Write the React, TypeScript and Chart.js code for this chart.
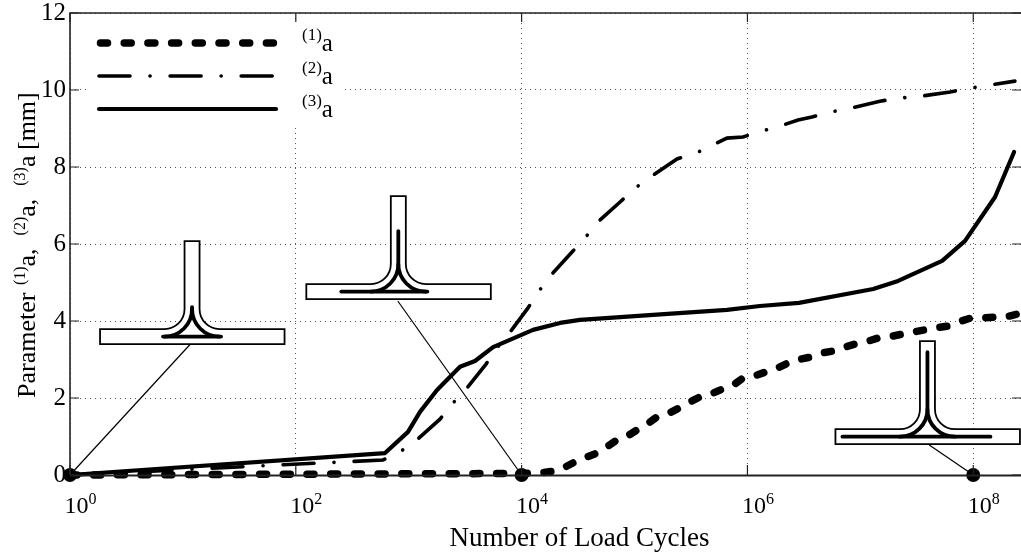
import React, { useEffect, useRef } from "react";
import { Chart, registerables } from "chart.js";

Chart.register(...registerables);

const cycles1 = [1, 100, 1e4, 14550, 18970, 23280, 29720, 35730, 46560, 54830, 69980, 84140, 105200, 126500, 158200, 194000, 247700, 297800, 380200, 457100, 595700, 731100, 914100, 1.10e6, 1.46e6, 1.76e6, 2.29e6, 2.75e6, 3.58e6, 4.58e6, 5.73e6, 6.89e6, 8.97e6, 1.10e7, 1.44e7, 1.76e7, 2.34e7, 4.59e7, 5.98e7, 7.33e7, 9.57e7, 1.20e8, 1.50e8, 1.91e8, 2.44e8];
const param1 = [0, 0.02, 0.04, 0.05, 0.10, 0.18, 0.34, 0.44, 0.57, 0.70, 0.91, 0.99, 1.17, 1.30, 1.51, 1.58, 1.74, 1.87, 2.03, 2.08, 2.23, 2.31, 2.52, 2.55, 2.68, 2.75, 2.91, 2.99, 3.06, 3.17, 3.22, 3.30, 3.40, 3.45, 3.56, 3.58, 3.66, 3.82, 3.87, 3.97, 4.08, 4.08, 4.10, 4.10, 4.18];

const cycles2 = [1, 592, 855, 1208, 1892, 2468, 3281, 4840, 6053, 7889, 11400, 14260, 18580, 27950, 36450, 48520, 74470, 1.01e5, 1.43e5, 2.38e5, 3.51e5, 5.16e5, 6.59e5, 9.14e5, 1.37e6, 2.07e6, 2.81e6, 3.73e6, 5.50e6, 8.27e6, 1.49e7, 2.25e7, 3.45e7, 6.23e7, 9.37e7, 1.41e8, 2.34e8];
const param2 = [0, 0.39, 0.62, 0.94, 1.45, 1.87, 2.26, 2.88, 3.30, 3.71, 4.34, 4.78, 5.22, 5.79, 6.16, 6.60, 7.09, 7.45, 7.77, 8.21, 8.36, 8.60, 8.75, 8.78, 8.94, 9.09, 9.22, 9.30, 9.43, 9.53, 9.71, 9.79, 9.84, 9.95, 10.05, 10.13, 10.23];

const cycles3 = [1, 617, 986, 1259, 1782, 2847, 3866, 5585, 12620, 21880, 32890, 145900, 659000, 1.29e6, 2.86e6, 1.30e7, 2.16e7, 5.30e7, 8.46e7, 1.56e8, 2.30e8];
const param3 = [0, 0.57, 1.12, 1.64, 2.21, 2.81, 2.96, 3.32, 3.77, 3.95, 4.03, 4.16, 4.29, 4.39, 4.47, 4.83, 5.04, 5.56, 6.08, 7.22, 8.39];

const markerCycles = [1, 1e4, 1e8];
const markerValues = [0, 0, 0];

const leaderFromCycles = [11.56, 800, 4.08e7];
const leaderFromValues = [3.39, 4.52, 0.78];

const xTickValues = [1, 1e2, 1e4, 1e6, 1e8];
const xTickExponents = ["0", "2", "4", "6", "8"];
const yTickStep = 2;
const seriesNames = ["(1)", "(2)", "(3)"];

const insetCycles = [12.05, 809, 3.93e7];
const insetValues = [3.79, 4.96, 1.19];
const crackTops = [22, 53, 77];
const crackLeft = [29, 57, 85];
const crackRight = [29, 29, 63];

const SERIF = '"Liberation Serif", "Times New Roman", serif';
const dash1 = [7, 16.7];
const dash2 = [31, 20, 0.1, 20];

type Run = { t: string; sup?: boolean; gap?: number };

function drawRuns(ctx: any, x: number, y: number, runs: Run[], size: number, supSize: number, rise: number) {
  let cur = x;
  ctx.textBaseline = "alphabetic";
  ctx.textAlign = "left";
  ctx.fillStyle = "#000";
  for (const r of runs) {
    cur += r.gap || 0;
    ctx.font = `${r.sup ? supSize : size}px ${SERIF}`;
    ctx.fillText(r.t, cur, r.sup ? y - rise : y);
    cur += ctx.measureText(r.t).width;
  }
}

const overlay = {
  id: "overlay",
  beforeDatasetsDraw(chart: any) {
    const { ctx, scales } = chart;
    const X = scales.x;
    const Y = scales.y;
    ctx.save();
    insetCycles.forEach((c, i) => {
      const cx = X.getPixelForValue(c);
      const ft = Y.getPixelForValue(insetValues[i]);
      const hw = 7.5;
      const R = 20;
      const left = cx - 92;
      const right = cx + 92.5;
      const fb = ft + 15;
      const wt = ft - 88;
      ctx.beginPath();
      ctx.moveTo(left, ft);
      ctx.lineTo(cx - hw - R, ft);
      ctx.arc(cx - hw - R, ft - R, R, Math.PI / 2, 0, true);
      ctx.lineTo(cx - hw, wt);
      ctx.lineTo(cx + hw, wt);
      ctx.lineTo(cx + hw, ft - R);
      ctx.arc(cx + hw + R, ft - R, R, Math.PI, Math.PI / 2, true);
      ctx.lineTo(right, ft);
      ctx.lineTo(right, fb);
      ctx.lineTo(left, fb);
      ctx.closePath();
      ctx.fillStyle = "#fff";
      ctx.fill();
      ctx.strokeStyle = "#000";
      ctx.lineWidth = 1.8;
      ctx.lineJoin = "miter";
      ctx.stroke();
      const my = ft + 7.5;
      const r = 27.5;
      ctx.lineWidth = 3.8;
      ctx.lineCap = "round";
      ctx.beginPath();
      ctx.moveTo(cx - crackLeft[i], my);
      ctx.lineTo(cx + crackRight[i], my);
      ctx.stroke();
      ctx.beginPath();
      ctx.arc(cx - r, my - r, r, Math.PI / 2, 0, true);
      ctx.lineTo(cx, ft - crackTops[i]);
      ctx.stroke();
      ctx.beginPath();
      ctx.arc(cx + r, my - r, r, Math.PI / 2, Math.PI, false);
      ctx.stroke();
    });
    ctx.restore();
  },
  afterDraw(chart: any) {
    const { ctx, scales, chartArea: a } = chart;
    const X = scales.x;
    const Y = scales.y;
    ctx.save();
    // frame and inward tick marks
    ctx.strokeStyle = "#222";
    ctx.lineWidth = 1.6;
    ctx.beginPath();
    ctx.moveTo(a.left, a.bottom);
    ctx.lineTo(a.left, a.top);
    ctx.lineTo(a.right, a.top);
    ctx.stroke();
    ctx.lineWidth = 2;
    ctx.beginPath();
    ctx.moveTo(a.left, a.bottom + 0.5);
    ctx.lineTo(a.right, a.bottom + 0.5);
    ctx.stroke();
    ctx.lineWidth = 1.2;
    ctx.beginPath();
    for (const t of xTickValues) {
      const p = X.getPixelForValue(t);
      ctx.moveTo(p, a.top);
      ctx.lineTo(p, a.top + 9);
      ctx.moveTo(p, a.bottom);
      ctx.lineTo(p, a.bottom - 10);
    }
    for (const t of Y.ticks) {
      const p = Y.getPixelForValue(t.value);
      ctx.moveTo(a.left, p);
      ctx.lineTo(a.left + 9, p);
      ctx.moveTo(a.right, p);
      ctx.lineTo(a.right - 9, p);
    }
    ctx.stroke();

    // legend
    ctx.fillStyle = "#fff";
    ctx.fillRect(87, 23, 255, 105);
    const ds = chart.data.datasets;
    seriesNames.forEach((name, i) => {
      const y = 43 + i * 33;
      ctx.strokeStyle = "#000";
      ctx.lineWidth = ds[i].borderWidth;
      ctx.lineCap = "round";
      ctx.setLineDash(ds[i].borderDash || []);
      ctx.beginPath();
      ctx.moveTo(i === 0 ? 100.5 : 99, y);
      ctx.lineTo(276, y);
      ctx.stroke();
      ctx.setLineDash([]);
      drawRuns(ctx, 302, y + 8, [{ t: name, sup: true }, { t: "a" }], 25, 17, 11);
    });

    // x tick labels with superscripts
    xTickValues.forEach((t, i) => {
      const p = X.getPixelForValue(t);
      drawRuns(ctx, p - 5.5, 513, [{ t: "10" }, { t: xTickExponents[i], sup: true }], 24, 16, 9.5);
    });

    // axis titles
    ctx.fillStyle = "#000";
    ctx.font = `27px ${SERIF}`;
    ctx.textAlign = "center";
    ctx.textBaseline = "alphabetic";
    ctx.fillText("Number of Load Cycles", 579.5, 546);

    ctx.translate(35, 398);
    ctx.rotate(-Math.PI / 2);
    drawRuns(
      ctx,
      0,
      0,
      [
        { t: "Parameter" },
        { t: seriesNames[0], sup: true, gap: 7.5 },
        { t: "a," },
        { t: seriesNames[1], sup: true, gap: 13 },
        { t: "a," },
        { t: seriesNames[2], sup: true, gap: 13 },
        { t: "a" },
        { t: "[mm]", gap: 5.5 },
      ],
      26,
      16,
      10
    );
    ctx.restore();
  },
};

const pts = (xs: number[], ys: number[]) => xs.map((x, i) => ({ x, y: ys[i] }));

const leaderDatasets = markerCycles.map((c, i) => ({
  label: `leader ${i + 1}`,
  data: [
    { x: leaderFromCycles[i], y: leaderFromValues[i] },
    { x: c, y: markerValues[i] },
  ],
  borderColor: "#000",
  borderWidth: 1.2,
  pointRadius: 0,
  clip: false,
  order: 5,
}));

const noPad = (s: any) => {
  s.paddingTop = 0;
  s.paddingBottom = 0;
  s.paddingLeft = 0;
  s.paddingRight = 0;
};

export default function App() {
  const ref = useRef<HTMLCanvasElement>(null);
  useEffect(() => {
    document.body.style.margin = "0";
    const chart = new Chart(ref.current as HTMLCanvasElement, {
      type: "line",
      data: {
        datasets: [
          { label: "(1)a", data: pts(cycles1, param1), borderColor: "#000", borderWidth: 7.5, borderDash: dash1, borderDashOffset: 0, borderCapStyle: "round", pointRadius: 0, tension: 0, clip: false, order: 3 },
          { label: "(2)a", data: pts(cycles2, param2), borderColor: "#000", borderWidth: 3.6, borderDash: dash2, borderDashOffset: 0, borderCapStyle: "round", pointRadius: 0, tension: 0, clip: false, order: 2 },
          { label: "(3)a", data: pts(cycles3, param3), borderColor: "#000", borderWidth: 4.2, borderCapStyle: "round", borderJoinStyle: "round", pointRadius: 0, tension: 0, clip: false, order: 1 },
          { label: "failure", data: pts(markerCycles, markerValues), showLine: false, pointRadius: 7, pointBackgroundColor: "#000", pointBorderWidth: 0, clip: false, order: 0 },
          ...leaderDatasets,
        ],
      } as any,
      options: {
        animation: false,
        responsive: false,
        devicePixelRatio: 1,
        layout: { autoPadding: false, padding: { top: 13, right: 0, left: 0, bottom: 0 } },
        plugins: { legend: { display: false }, tooltip: { enabled: false } },
        scales: {
          x: {
            type: "logarithmic",
            min: 1,
            max: Math.pow(10, 8.423),
            afterBuildTicks: (s: any) => {
              s.ticks = xTickValues.map((value) => ({ value }));
            },
            afterFit: (s: any) => {
              s.height = 78;
              noPad(s);
            },
            ticks: { display: false },
            grid: { color: "#555", lineWidth: 1, drawTicks: false },
            border: { display: false, dash: [1, 4] },
          },
          y: {
            type: "linear",
            min: 0,
            max: 12,
            afterFit: (s: any) => {
              s.width = 70;
              noPad(s);
            },
            ticks: {
              stepSize: yTickStep,
              color: "#000",
              padding: 4,
              font: { family: SERIF, size: 25 },
            },
            grid: { color: "#555", lineWidth: 1, drawTicks: false },
            border: { display: false, dash: [1, 4] },
          },
        },
      } as any,
      plugins: [overlay],
    });
    return () => chart.destroy();
  }, []);
  return (
    <canvas
      ref={ref}
      width={1021}
      height={553}
      style={{ position: "absolute", left: 0, top: 0, width: 1021, height: 553 }}
    />
  );
}
